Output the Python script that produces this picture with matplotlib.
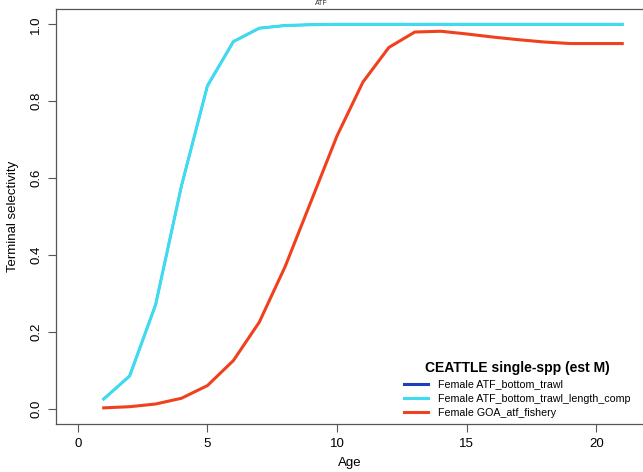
import matplotlib.pyplot as plt

plt.rcParams['font.family'] = ['Liberation Sans', 'DejaVu Sans']

ages = list(range(1, 22))
bottom_trawl = [0.025, 0.085, 0.27, 0.58, 0.84, 0.955, 0.99, 0.997, 0.999, 1.0,
                1.0, 1.0, 1.0, 1.0, 1.0, 1.0, 1.0, 1.0, 1.0, 1.0, 1.0]
bottom_trawl_length = [0.025, 0.085, 0.27, 0.58, 0.84, 0.955, 0.99, 0.997, 0.999, 1.0,
                       1.0, 1.0, 1.0, 1.0, 1.0, 1.0, 1.0, 1.0, 1.0, 1.0, 1.0]
fishery = [0.002, 0.005, 0.012, 0.027, 0.06, 0.125, 0.225, 0.37, 0.54, 0.71,
           0.85, 0.94, 0.98, 0.982, 0.975, 0.967, 0.96, 0.954, 0.95, 0.95, 0.95]
labels = ["Female ATF_bottom_trawl",
          "Female ATF_bottom_trawl_length_comp",
          "Female GOA_atf_fishery"]
colors = ["#1c3fc0", "#3edcf0", "#f0401e"]
widths = [1.6, 2.2, 2.2]

fig = plt.figure(figsize=(6.43, 4.72), dpi=100)
ax = fig.add_axes([0.0871, 0.1017, 0.9145, 0.8793])

for y, lab, c, w in zip([bottom_trawl, bottom_trawl_length, fishery], labels, colors, widths):
    ax.plot(ages, y, color=c, lw=w, label=lab)

ax.set_xlim(-0.84, 21.84)
ax.set_ylim(-0.04, 1.04)
ax.set_xticks([0, 5, 10, 15, 20])
ax.set_yticks([0.0, 0.2, 0.4, 0.6, 0.8, 1.0])
ax.set_yticklabels(["0.0", "0.2", "0.4", "0.6", "0.8", "1.0"], rotation=90, va='center')
ax.tick_params(length=6, width=0.8, color='#555555', labelsize=9.5, pad=4)
for s in ax.spines.values():
    s.set_color('#555555')
    s.set_linewidth(0.9)

ax.set_xlabel("Age", fontsize=9.5, labelpad=5)
ax.set_ylabel("Terminal selectivity", fontsize=9.5, labelpad=8)

leg = ax.legend(loc='lower left', bbox_to_anchor=(0.585, 0.005), frameon=False,
                title="CEATTLE single-spp (est M)", fontsize=7.7,
                handlelength=2.2, handletextpad=1.0, labelspacing=0.38,
                borderaxespad=0)
for h in leg.get_lines():
    h.set_linewidth(2.2)
leg.get_title().set_fontweight('bold')
leg.get_title().set_fontsize(10)

fig.text(0.5, 0.999, "ATF", ha='center', va='top', fontsize=5, color='#333333')

fig.savefig("out.png", dpi=100)
